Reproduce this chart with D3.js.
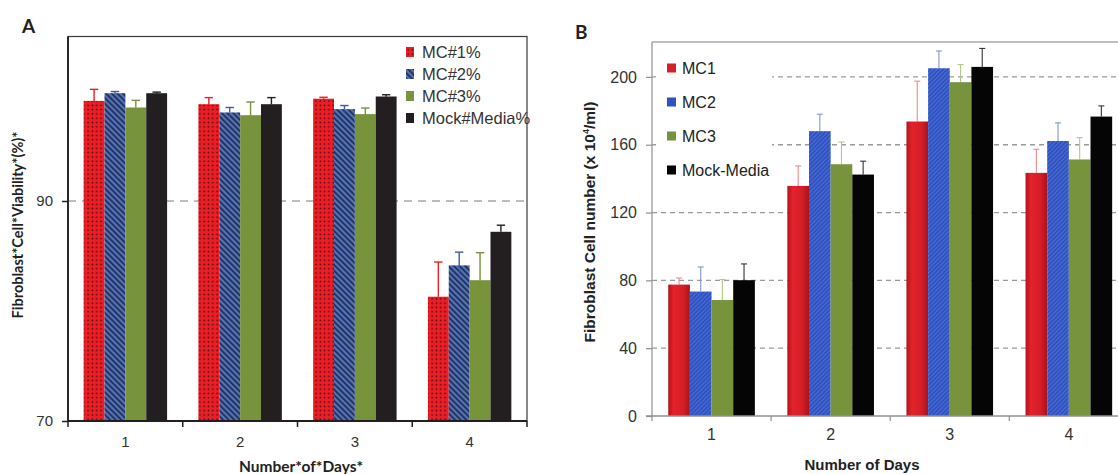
<!DOCTYPE html>
<html>
<head>
<meta charset="utf-8">
<script src="https://cdn.jsdelivr.net/npm/d3@7"></script>
<style>
  body { margin: 0; background: #fff; }
  svg { display: block; }
</style>
</head>
<body>
<div id="chart"></div>
<script>
// ---- data ----
var days = ["1", "2", "3", "4"];

// panel A : cell viability (%)
var seriesA   = ["MC#1%", "MC#2%", "MC#3%", "Mock#Media%"];
var viabMC1   = [99.1, 98.8, 99.3, 81.3];
var viabMC2   = [99.8, 98.05, 98.35, 84.15];
var viabMC3   = [98.5, 97.8, 97.9, 82.8];
var viabMock  = [99.8, 98.8, 99.5, 87.2];
var viabErrMC1  = [1.05, 0.6, 0.13, 3.15];
var viabErrMC2  = [0.15, 0.45, 0.33, 1.2];
var viabErrMC3  = [0.65, 1.2, 0.55, 2.5];
var viabErrMock = [0.1, 0.6, 0.16, 0.6];
var ticksA = [70, 90];

// panel B : cell number (x 10^4/ml)
var seriesB    = ["MC1", "MC2", "MC3", "Mock-Media"];
var cellsMC1   = [77.5, 135.7, 173.7, 143.4];
var cellsMC2   = [73.4, 168, 205.1, 162.2];
var cellsMC3   = [68.4, 148.5, 196.9, 151.3];
var cellsMock  = [80.1, 142.4, 205.9, 176.6];
var cellsErrMC1  = [3.9, 11.8, 23.8, 13.9];
var cellsErrMC2  = [14.5, 10, 10.2, 10.7];
var cellsErrMC3  = [12.1, 13.1, 10.4, 12.9];
var cellsErrMock = [9.6, 7.9, 10.9, 6.3];
var ticksB = [0, 40, 80, 120, 160, 200];

var meanA = [viabMC1, viabMC2, viabMC3, viabMock];
var errA  = [viabErrMC1, viabErrMC2, viabErrMC3, viabErrMock];
var meanB = [cellsMC1, cellsMC2, cellsMC3, cellsMock];
var errB  = [cellsErrMC1, cellsErrMC2, cellsErrMC3, cellsErrMock];

var svg = d3.select("#chart")
  .append("svg")
    .attr("width", 1118)
    .attr("height", 474)
    .style("font-family", "'Liberation Sans', Arial, sans-serif");

svg.append("rect").attr("width", 1118).attr("height", 474).attr("fill", "#fff");

// ---- fills ----
var defs = svg.append("defs");

var dots = defs.append("pattern")
  .attr("id", "dotsRed")
  .attr("patternUnits", "userSpaceOnUse")
  .attr("width", 4.3).attr("height", 4.3);
dots.append("rect").attr("width", 4.3).attr("height", 4.3).attr("fill", "#ee1d25");
dots.append("circle").attr("cx", 2.1).attr("cy", 2.1).attr("r", 0.85).attr("fill", "#3b1214");

var hatch = defs.append("pattern")
  .attr("id", "hatchBlue")
  .attr("patternUnits", "userSpaceOnUse")
  .attr("width", 4).attr("height", 4)
  .attr("patternTransform", "rotate(-45)");
hatch.append("rect").attr("width", 4).attr("height", 4).attr("fill", "#5473bd");
hatch.append("rect").attr("width", 1.7).attr("height", 4).attr("fill", "#1d2a4c");

var redGrad = defs.append("linearGradient").attr("id", "redB");
[[0, "#b3131b"], [0.25, "#e4222a"], [0.7, "#d31e27"], [1, "#a9121a"]].forEach(s =>
  redGrad.append("stop").attr("offset", s[0]).attr("stop-color", s[1]));

var fineHatch = defs.append("pattern")
  .attr("id", "hatchBlueB")
  .attr("patternUnits", "userSpaceOnUse")
  .attr("width", 3).attr("height", 3)
  .attr("patternTransform", "rotate(45)");
fineHatch.append("rect").attr("width", 3).attr("height", 3).attr("fill", "#2f52c0");
fineHatch.append("rect").attr("width", 1).attr("height", 3).attr("fill", "#4c6fd6");

var fillA = ["url(#dotsRed)", "url(#hatchBlue)", "#77933c", "#231f20"];
var errColA = ["#ee1d25", "#3d5aa8", "#77933c", "#231f20"];
var fillB = ["url(#redB)", "url(#hatchBlueB)", "#77933c", "#050505"];
var errColB = ["#ef8a8a", "#8494d4", "#b4c68a", "#333"];
var legendA = ["url(#dotsRed)", "url(#hatchBlue)", "#77933c", "#231f20"];
var legendB = ["#d42028", "#2f52c0", "#77933c", "#000"];

// ================= Panel A =================
var xA = d3.scaleBand().domain(days).range([68, 527]);
var xA1 = d3.scaleBand().domain(d3.range(4)).range([0, xA.bandwidth()]).paddingOuter(0.75);
var yA = d3.scaleLinear().domain([70, 105]).range([421, 36]);

var gA = svg.append("g");

// dashed line at 90
gA.append("line")
  .attr("x1", 68).attr("x2", 527)
  .attr("y1", yA(90)).attr("y2", yA(90))
  .attr("stroke", "#a6a6a6").attr("stroke-width", 1.4)
  .attr("stroke-dasharray", "8,6");

var rowsA = [];
days.forEach((d, i) => seriesA.forEach((s, j) =>
  rowsA.push({ day: d, k: j, v: meanA[j][i], e: errA[j][i] })));

gA.selectAll(".barA")
  .data(rowsA)
  .enter().append("rect")
    .attr("class", "barA")
    .attr("x", d => xA(d.day) + xA1(d.k))
    .attr("width", xA1.bandwidth())
    .attr("y", d => yA(d.v))
    .attr("height", d => yA(70) - yA(d.v))
    .attr("fill", d => fillA[d.k]);

// error bars: upper half solid, lower half faded over the bar
var errGA = gA.selectAll(".errA").data(rowsA).enter().append("g")
  .attr("transform", d => `translate(${xA(d.day) + xA1(d.k) + xA1.bandwidth() / 2},0)`)
  .attr("stroke", d => errColA[d.k])
  .attr("stroke-width", 1.4);
errGA.append("line")
  .attr("y1", d => yA(d.v)).attr("y2", d => yA(d.v + d.e));
errGA.append("line")
  .attr("x1", -4.2).attr("x2", 4.2)
  .attr("y1", d => yA(d.v + d.e)).attr("y2", d => yA(d.v + d.e));
errGA.append("line")
  .attr("y1", d => yA(d.v)).attr("y2", d => yA(d.v - d.e))
  .attr("stroke-opacity", 0.45);

// frame
gA.append("rect")
  .attr("x", 68).attr("y", 36.5)
  .attr("width", 459).attr("height", 421 - 36.5)
  .attr("fill", "none").attr("stroke", "#3a3a3a").attr("stroke-width", 1.2);
gA.append("line")
  .attr("x1", 68).attr("x2", 527).attr("y1", 421).attr("y2", 421)
  .attr("stroke", "#231f20").attr("stroke-width", 1.8);
gA.append("line")
  .attr("x1", 68).attr("x2", 68).attr("y1", 36.5).attr("y2", 421)
  .attr("stroke", "#231f20").attr("stroke-width", 1.8);

// y axis
var yAxisA = gA.append("g")
  .attr("transform", "translate(68,0)")
  .call(d3.axisLeft(yA).tickValues(ticksA).tickSize(6).tickPadding(9));
yAxisA.select(".domain").remove();
yAxisA.selectAll("line").attr("stroke", "#231f20").attr("stroke-width", 1.5);
yAxisA.selectAll("text").attr("fill", "#333").style("font-size", "15px")
  .style("font-family", "'Liberation Sans', Arial, sans-serif");

// x axis
var xAxisA = gA.append("g")
  .attr("transform", "translate(0,421)")
  .call(d3.axisBottom(xA).tickSize(0).tickPadding(15));
xAxisA.select(".domain").remove();
xAxisA.selectAll("text").attr("fill", "#333").style("font-size", "15px")
  .style("font-family", "'Liberation Sans', Arial, sans-serif");
gA.selectAll(".tickA")
  .data(days.map(d => xA(d)).concat([xA.range()[1]]))
  .enter().append("line")
    .attr("x1", d => d).attr("x2", d => d)
    .attr("y1", 421).attr("y2", 427)
    .attr("stroke", "#231f20").attr("stroke-width", 1.5);

// legend A
var legA = gA.append("g").attr("transform", "translate(406,52)");
seriesA.forEach((s, j) => {
  var row = legA.append("g").attr("transform", `translate(0,${j * 22})`);
  row.append("rect").attr("x", 0).attr("y", -5).attr("width", 8).attr("height", 10)
    .attr("fill", legendA[j]);
  row.append("text").attr("x", 16).attr("y", 5.8)
    .attr("fill", "#333").style("font-size", "16.5px").text(s);
});

// titles A
svg.append("text")
  .attr("x", 22).attr("y", 33)
  .style("font-family", "Lato, 'Open Sans', sans-serif")
  .style("font-weight", "bold").style("font-size", "19px")
  .attr("fill", "#231f20").text("A");

svg.append("text")
  .attr("text-anchor", "middle")
  .attr("transform", "translate(23,225) rotate(-90)")
  .style("font-family", "Lato, 'Open Sans', sans-serif")
  .style("font-weight", "bold").style("font-size", "14.5px")
  .attr("fill", "#231f20").text("Fibroblast*Cell*Viability*(%)*");

svg.append("text")
  .attr("text-anchor", "middle")
  .attr("x", 301).attr("y", 472)
  .style("font-family", "Lato, 'Open Sans', sans-serif")
  .style("font-weight", "bold").style("font-size", "15.5px")
  .attr("fill", "#231f20").text("Number*of*Days*");

// ================= Panel B =================
var xB = d3.scaleBand().domain(days).range([652, 1128.4]);
var xB1 = d3.scaleBand().domain(d3.range(4)).range([0, xB.bandwidth()]).paddingOuter(0.75);
var yB = d3.scaleLinear().domain([0, 220]).range([416, 43]);

var gB = svg.append("g");

// grid
gB.selectAll(".gridB")
  .data(ticksB.filter(t => t > 0))
  .enter().append("line")
    .attr("x1", 652).attr("x2", 1128)
    .attr("y1", d => yB(d)).attr("y2", d => yB(d))
    .attr("stroke", "#9a9a9a").attr("stroke-width", 1.3)
    .attr("stroke-dasharray", "5,4");

// legend background hides grid
gB.append("rect")
  .attr("x", 656).attr("y", 50).attr("width", 116).attr("height", 134)
  .attr("fill", "#fff");

var rowsB = [];
days.forEach((d, i) => seriesB.forEach((s, j) =>
  rowsB.push({ day: d, k: j, v: meanB[j][i], e: errB[j][i] })));

var errGB = gB.selectAll(".errB").data(rowsB).enter().append("g")
  .attr("transform", d => `translate(${xB(d.day) + xB1(d.k) + xB1.bandwidth() / 2},0)`)
  .attr("stroke", d => errColB[d.k])
  .attr("stroke-width", 1.1);
errGB.append("line")
  .attr("y1", d => yB(d.v)).attr("y2", d => yB(d.v + d.e));
errGB.append("line")
  .attr("x1", -3).attr("x2", 3)
  .attr("y1", d => yB(d.v + d.e)).attr("y2", d => yB(d.v + d.e));

gB.selectAll(".barB")
  .data(rowsB)
  .enter().append("rect")
    .attr("class", "barB")
    .attr("x", d => xB(d.day) + xB1(d.k))
    .attr("width", xB1.bandwidth())
    .attr("y", d => yB(d.v))
    .attr("height", d => yB(0) - yB(d.v))
    .attr("fill", d => fillB[d.k]);

// frame B
gB.append("line")
  .attr("x1", 652).attr("x2", 1128).attr("y1", 42).attr("y2", 42)
  .attr("stroke", "#a8a8a8").attr("stroke-width", 1.6);
gB.append("line")
  .attr("x1", 652).attr("x2", 652).attr("y1", 42).attr("y2", 416)
  .attr("stroke", "#a0a0a0").attr("stroke-width", 1.4);
gB.append("line")
  .attr("x1", 646).attr("x2", 1128).attr("y1", 416).attr("y2", 416)
  .attr("stroke", "#909090").attr("stroke-width", 1.4);

var yAxisB = gB.append("g")
  .attr("transform", "translate(652,0)")
  .call(d3.axisLeft(yB).tickValues(ticksB).tickSize(6).tickPadding(9));
yAxisB.select(".domain").remove();
yAxisB.selectAll("line").attr("stroke", "#909090").attr("stroke-width", 1.2);
yAxisB.selectAll("text").attr("fill", "#333").style("font-size", "16px")
  .style("font-family", "'Liberation Sans', Arial, sans-serif");

var xAxisB = gB.append("g")
  .attr("transform", "translate(0,416)")
  .call(d3.axisBottom(xB).tickSize(0).tickPadding(13));
xAxisB.select(".domain").remove();
xAxisB.selectAll("text").attr("fill", "#333").style("font-size", "16px")
  .style("font-family", "'Liberation Sans', Arial, sans-serif");
gB.selectAll(".tickB")
  .data(days.map(d => xB(d)).concat([xB.range()[1]]))
  .enter().append("line")
    .attr("x1", d => d).attr("x2", d => d)
    .attr("y1", 416).attr("y2", 421)
    .attr("stroke", "#909090").attr("stroke-width", 1.2);

// legend B
var legB = gB.append("g").attr("transform", "translate(667,68)");
seriesB.forEach((s, j) => {
  var row = legB.append("g").attr("transform", `translate(0,${j * 34})`);
  row.append("rect").attr("x", 0).attr("y", -4.5).attr("width", 9).attr("height", 9)
    .attr("fill", legendB[j]);
  row.append("text").attr("x", 15).attr("y", 5.8)
    .attr("fill", "#222").style("font-size", "16px").text(s);
});

// titles B
svg.append("text")
  .attr("x", 575).attr("y", 39)
  .style("font-family", "Lato, 'Open Sans', sans-serif")
  .style("font-weight", "bold").style("font-size", "19px")
  .attr("fill", "#231f20").text("B");

var yTitleB = svg.append("text")
  .attr("text-anchor", "middle")
  .attr("transform", "translate(595,222) rotate(-90)")
  .style("font-weight", "bold").style("font-size", "15.5px")
  .attr("fill", "#222");
yTitleB.append("tspan").text("Fibroblast Cell number (x 10");
yTitleB.append("tspan").attr("dy", -6).style("font-size", "9px").text("4");
yTitleB.append("tspan").attr("dy", 6).text("/ml)");

svg.append("text")
  .attr("text-anchor", "middle")
  .attr("x", 862).attr("y", 470)
  .style("font-weight", "bold").style("font-size", "15px")
  .attr("fill", "#222").text("Number of Days");
</script>
</body>
</html>
